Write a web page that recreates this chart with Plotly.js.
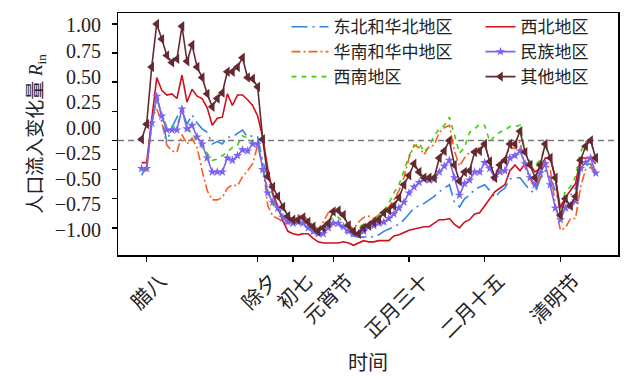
<!DOCTYPE html>
<html>
<head>
<meta charset="utf-8">
<script src="https://cdn.plot.ly/plotly-3.0.1.min.js"></script>
<style>
  html, body { margin: 0; padding: 0; background: #ffffff; }
  #chart { width: 624px; height: 376px; }
</style>
</head>
<body>
<div id="chart"></div>
<script>
// Day offsets relative to 腊八 (day 0), one value per day.
const days = Array.from({ length: 91 }, (_, i) => i - 1);

// Festival tick positions (day offsets) and their labels.
const tickDays = [0, 22, 29, 37, 52, 67, 82];
const tickLabels = ['腊八', '除夕', '初七', '元宵节', '正月三十', '二月十五', '清明节'];

// R_in per region, days -1 … 89.
const northeastNorth = [
  -0.30, -0.22, 0.13, 0.38, 0.20, -0.01, 0.11, 0.20, 0.26, 0.14,
  0.22, 0.15, 0.10, 0.07, -0.03, -0.01, -0.03, 0.03, 0.03, 0.06,
  0.09, 0.03, 0.04, 0.03, -0.18, -0.31, -0.47, -0.57, -0.63, -0.68,
  -0.71, -0.71, -0.72, -0.74, -0.79, -0.81, -0.80, -0.74, -0.70, -0.72,
  -0.77, -0.81, -0.82, -0.83, -0.83, -0.82, -0.83, -0.81, -0.78, -0.76,
  -0.74, -0.72, -0.68, -0.63, -0.58, -0.56, -0.54, -0.51, -0.48, -0.44,
  -0.41, -0.38, -0.53, -0.57, -0.50, -0.47, -0.42, -0.40, -0.38, -0.43,
  -0.49, -0.44, -0.41, -0.33, -0.32, -0.32, -0.38, -0.43, -0.45, -0.33,
  -0.26, -0.32, -0.43, -0.57, -0.50, -0.47, -0.41, -0.26, -0.21, -0.20,
  -0.30
];
const southCentral = [
  -0.26, -0.26, 0.19, 0.27, 0.16, -0.04, -0.09, -0.10, 0.05, -0.03,
  0.02, -0.06, -0.26, -0.43, -0.51, -0.51, -0.49, -0.41, -0.38, -0.39,
  -0.31, -0.26, -0.20, -0.04, -0.20, -0.56, -0.65, -0.67, -0.70, -0.72,
  -0.68, -0.64, -0.64, -0.68, -0.73, -0.76, -0.70, -0.62, -0.59, -0.59,
  -0.66, -0.72, -0.76, -0.70, -0.66, -0.65, -0.67, -0.64, -0.60, -0.57,
  -0.51, -0.43, -0.32, -0.15, -0.04, -0.06, -0.12, -0.05, -0.04, 0.07,
  0.11, 0.13, -0.09, -0.22, -0.15, -0.10, -0.09, -0.06, -0.02, -0.19,
  -0.31, -0.19, -0.15, -0.06, -0.07, -0.01, -0.23, -0.33, -0.41, -0.31,
  -0.18, -0.25, -0.55, -0.77, -0.75, -0.67, -0.67, -0.40, -0.25, -0.23,
  -0.29
];
const southwest = [
  -0.24, -0.24, 0.15, 0.36, 0.22, 0.12, 0.10, 0.13, 0.25, 0.12,
  0.05, 0.00, -0.06, -0.11, -0.17, -0.16, -0.13, -0.10, -0.06, -0.04,
  0.04, 0.02, -0.02, -0.01, -0.24, -0.42, -0.55, -0.60, -0.65, -0.70,
  -0.70, -0.66, -0.65, -0.70, -0.75, -0.78, -0.76, -0.70, -0.66, -0.66,
  -0.70, -0.75, -0.78, -0.74, -0.72, -0.70, -0.70, -0.64, -0.60, -0.54,
  -0.45, -0.38, -0.26, -0.13, -0.05, -0.02, -0.10, -0.05, 0.04, 0.10,
  0.13, 0.20, 0.05, -0.11, -0.06, 0.07, 0.10, 0.14, 0.13, -0.01,
  0.04, 0.07, 0.09, 0.12, 0.12, 0.13, -0.10, -0.18, -0.21, -0.17,
  -0.05, -0.15, -0.32, -0.60, -0.43, -0.40, -0.31, -0.10, -0.01, 0.00,
  -0.15
];
const northwest = [
  -0.19, -0.19, 0.18, 0.54, 0.43, 0.39, 0.40, 0.36, 0.56, 0.33,
  0.44, 0.38, 0.36, 0.28, 0.13, 0.19, 0.20, 0.40, 0.30, 0.39,
  0.39, 0.35, 0.30, 0.21, 0.03, -0.24, -0.45, -0.58, -0.69, -0.78,
  -0.80, -0.81, -0.80, -0.80, -0.84, -0.87, -0.88, -0.88, -0.88, -0.88,
  -0.87, -0.88, -0.90, -0.88, -0.86, -0.87, -0.87, -0.86, -0.86, -0.86,
  -0.82, -0.81, -0.79, -0.77, -0.76, -0.75, -0.74, -0.74, -0.71, -0.68,
  -0.68, -0.67, -0.72, -0.75, -0.70, -0.68, -0.63, -0.62, -0.56, -0.50,
  -0.44, -0.41, -0.38, -0.26, -0.21, -0.26, -0.20, -0.21, -0.27, -0.24,
  -0.15, -0.15, -0.32, -0.58, -0.49, -0.43, -0.37, -0.15, -0.15, -0.15,
  -0.20
];
const ethnic = [
  -0.24, -0.24, 0.15, 0.38, 0.21, 0.09, 0.09, 0.09, 0.27, 0.10,
  0.13, 0.03, -0.03, -0.15, -0.27, -0.27, -0.27, -0.15, -0.17, -0.13,
  -0.08, -0.09, -0.03, -0.03, -0.25, -0.45, -0.53, -0.58, -0.66, -0.70,
  -0.71, -0.70, -0.71, -0.75, -0.78, -0.80, -0.80, -0.75, -0.71, -0.71,
  -0.74, -0.78, -0.80, -0.80, -0.78, -0.74, -0.73, -0.71, -0.70, -0.67,
  -0.63, -0.58, -0.53, -0.45, -0.40, -0.36, -0.33, -0.34, -0.33, -0.27,
  -0.22, -0.17, -0.32, -0.47, -0.37, -0.34, -0.27, -0.27, -0.19, -0.24,
  -0.32, -0.27, -0.26, -0.15, -0.13, -0.09, -0.20, -0.32, -0.38, -0.28,
  -0.20, -0.38, -0.58, -0.68, -0.58, -0.56, -0.52, -0.24, -0.19, -0.15,
  -0.28
];
const others = [
  0.01, 0.14, 0.63, 1.00, 0.87, 0.73, 0.67, 0.70, 0.98, 0.68,
  0.82, 0.63, 0.54, 0.40, 0.29, 0.36, 0.41, 0.59, 0.59, 0.63,
  0.71, 0.54, 0.53, 0.46, 0.01, -0.31, -0.40, -0.48, -0.57, -0.65,
  -0.68, -0.68, -0.66, -0.70, -0.74, -0.78, -0.75, -0.71, -0.61, -0.60,
  -0.64, -0.73, -0.78, -0.80, -0.75, -0.73, -0.70, -0.68, -0.62, -0.60,
  -0.56, -0.49, -0.38, -0.30, -0.20, -0.27, -0.32, -0.32, -0.32, -0.15,
  -0.09, 0.00, -0.21, -0.35, -0.27, -0.26, -0.10, -0.09, -0.03, -0.18,
  -0.32, -0.21, -0.17, -0.03, -0.03, 0.08, -0.10, -0.21, -0.32, -0.21,
  -0.03, -0.15, -0.32, -0.64, -0.50, -0.56, -0.48, -0.17, -0.05, 0.00,
  -0.15
];

// Tick marks on the value axis, and the printed scale beside it.
const yTickVals = [1.00, 0.75, 0.50, 0.25, 0.00, -0.25, -0.50, -0.75];
const yLabelVals = [1.00, 0.75, 0.50, 0.25, 0.00, -0.25, -0.50, -0.75, -1.00];
const yLabelText = ['1.00', '0.75', '0.50', '0.25', '0.00', '\u22120.25', '\u22120.50', '\u22120.75', '\u22121.00'];

const serif = 'Liberation Serif, Noto Sans CJK SC, serif';
const cjk = 'Noto Sans CJK SC, sans-serif';

const traces = [
  { name: '东北和华北地区', y: northeastNorth, legend: 'legend',
    line: { color: '#2f86dc', width: 1.6, dash: '16px,5px,2px,5px' }, mode: 'lines' },
  { name: '华南和华中地区', y: southCentral, legend: 'legend2',
    line: { color: '#ff5a1e', width: 1.6, dash: '9px,3px,2px,3px' }, mode: 'lines' },
  { name: '西南地区', y: southwest, legend: 'legend3',
    line: { color: '#3fd010', width: 1.6, dash: '5px,5px' }, mode: 'lines' },
  { name: '西北地区', y: northwest, legend: 'legend4',
    line: { color: '#d0101c', width: 1.6 }, mode: 'lines' },
  { name: '民族地区', y: ethnic, legend: 'legend5', mode: 'lines+markers',
    line: { color: '#7b63f0', width: 1.6 },
    marker: { symbol: 'star', size: 7, color: '#7b63f0' } },
  { name: '其他地区', y: others, legend: 'legend6', mode: 'lines+markers',
    line: { color: '#632b31', width: 1.6 },
    marker: { symbol: 'triangle-left', size: 9, color: '#632b31' } }
].map(t => Object.assign({ type: 'scatter', x: days, hoverinfo: 'skip' }, t));

// Empty trace so the printed scale axis (y2) gets its own subplot layer.
traces.push({ type: 'scatter', x: [], y: [], yaxis: 'y2', showlegend: false, hoverinfo: 'skip' });

// One single-entry legend per key, laid out as two columns of three rows.
function legendAt(x, y, itemwidth) {
  return {
    bgcolor: 'rgba(0,0,0,0)', borderwidth: 0,
    font: { family: cjk, size: 17, color: '#222' },
    x: x, y: y, xanchor: 'left', yanchor: 'middle', itemwidth: itemwidth
  };
}
const rowY = [0.9414, 0.8384, 0.7353];
const colX = [0.337, 0.725];

const layout = {
  width: 624, height: 376,
  margin: { l: 118, r: 5.5, t: 12.5, b: 121, pad: 0 },
  paper_bgcolor: '#ffffff', plot_bgcolor: '#ffffff',
  font: { family: serif, size: 20, color: '#111' },
  showlegend: true,
  legend: legendAt(colX[0], rowY[0], 37),
  legend2: legendAt(colX[0], rowY[1], 37),
  legend3: legendAt(colX[0], rowY[2], 37),
  legend4: legendAt(colX[1], rowY[0], 30),
  legend5: legendAt(colX[1], rowY[1], 30),
  legend6: legendAt(colX[1], rowY[2], 30),
  xaxis: {
    range: [-5.68, 93.42],
    tickvals: tickDays, ticktext: tickLabels,
    tickangle: -45, ticklabelshift: 14, ticklabelstandoff: 0,
    tickfont: { family: cjk, size: 20, color: '#222' },
    ticks: 'outside', ticklen: 5, tickwidth: 1.5, tickcolor: '#000',
    showline: true, linecolor: '#000', linewidth: 1.5, mirror: true,
    showgrid: false, zeroline: false,
    title: { text: '时间', font: { family: cjk, size: 20, color: '#222' }, standoff: 30 }
  },
  yaxis: {
    range: [-0.983, 1.094],
    tickvals: yTickVals, showticklabels: false,
    ticks: 'outside', ticklen: 5, tickwidth: 1.5, tickcolor: '#000',
    showline: true, linecolor: '#000', linewidth: 1.5, mirror: true,
    showgrid: false, zeroline: false
  },
  yaxis2: {
    overlaying: 'y', side: 'left', anchor: 'x',
    range: [-1.244, 1.122],
    tickvals: yLabelVals, ticktext: yLabelText,
    tickfont: { family: serif, size: 20, color: '#222' },
    ticks: '', ticklabelstandoff: 16,
    showline: false, showgrid: false, zeroline: false,
    title: {
      text: '人口流入变化量 <i>R</i><sub>in</sub>',
      font: { family: serif, size: 19, color: '#222' }, standoff: 7
    }
  },
  shapes: [{
    type: 'line', xref: 'paper', x0: 0, x1: 1, yref: 'y', y0: 0, y1: 0,
    line: { color: '#7a7a7a', width: 1.5, dash: '6px,4px' }, layer: 'below'
  }]
};

Plotly.newPlot('chart', traces, layout, { displayModeBar: false, staticPlot: true });
</script>
</body>
</html>
